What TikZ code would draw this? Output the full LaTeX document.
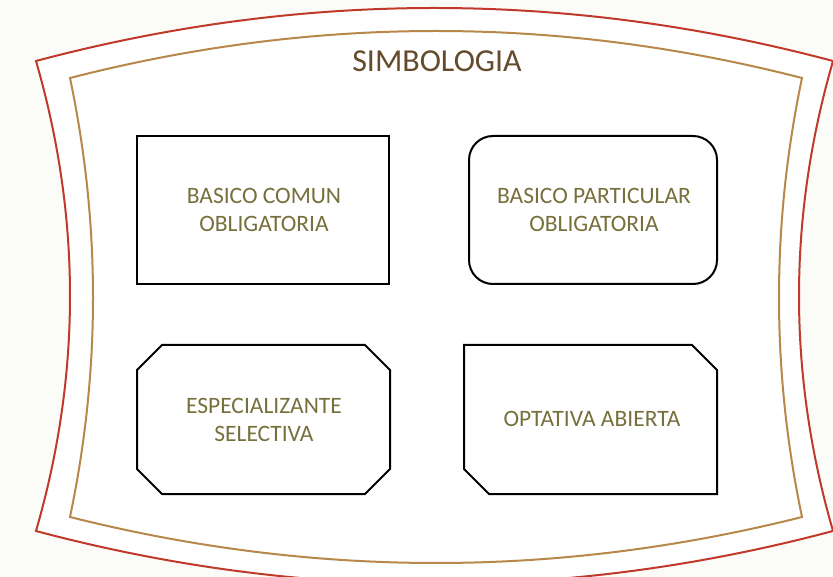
\documentclass[tikz,border=0pt]{standalone}
\usepackage{fontspec}
\setmainfont{Carlito}
\definecolor{bgc}{HTML}{FBFCF7}
\definecolor{redc}{HTML}{C0392B}
\definecolor{tanc}{HTML}{B8874A}
\definecolor{titlec}{HTML}{644B2C}
\definecolor{textc}{HTML}{76703C}
\begin{document}
\begin{tikzpicture}[x=1pt,y=-1pt,
  boxline/.style={draw=black,line width=2pt,fill=white,line join=miter},
  boxtext/.style={text=textc,font=\fontsize{23.5}{28}\selectfont,align=center,inner sep=0pt},
  frameline/.style={line width=2pt}]
\useasboundingbox[fill=bgc] (0,0) rectangle (833,577);
% outer red frame
\draw[frameline,draw=redc,fill=white]
  (36,61) .. controls (301.7,-9.67) and (567.3,-9.67) .. (833,61)
  .. controls (787.67,217.67) and (787.67,374.33) .. (833,531)
  .. controls (567.3,601.67) and (301.7,601.67) .. (36,531)
  .. controls (81.33,374.33) and (81.33,217.67) .. cycle;
% inner tan frame
\draw[frameline,draw=tanc]
  (70,78) .. controls (314,15.33) and (558,15.33) .. (802,78)
  .. controls (771.33,224.33) and (771.33,370.67) .. (802,517)
  .. controls (558,578.33) and (314,578.33) .. (70,517)
  .. controls (100.67,370.67) and (100.67,224.33) .. cycle;
\node[text=titlec,font=\fontsize{32}{38}\selectfont,inner sep=0pt] (title) at (437,61) {SIMBOLOGIA};
% box 1
\draw[boxline] (137,136) rectangle (389,284);
\node[boxtext] (b1) at (264,210) {BASICO COMUN\\OBLIGATORIA};
% box 2
\draw[boxline,rounded corners=24pt] (469,136) rectangle (717,284);
\node[boxtext] (b2) at (594,210) {BASICO PARTICULAR\\OBLIGATORIA};
% box 3
\draw[boxline] (162,345) -- (365,345) -- (390,370) -- (390,469) -- (365,494) -- (162,494) -- (137,469) -- (137,370) -- cycle;
\node[boxtext] (b3) at (264,420) {ESPECIALIZANTE\\SELECTIVA};
% box 4
\draw[boxline] (464,345) -- (692,345) -- (717,370) -- (717,494) -- (489,494) -- (464,469) -- cycle;
\node[boxtext] (b4) at (592,419) {OPTATIVA ABIERTA};
\end{tikzpicture}
\end{document}
